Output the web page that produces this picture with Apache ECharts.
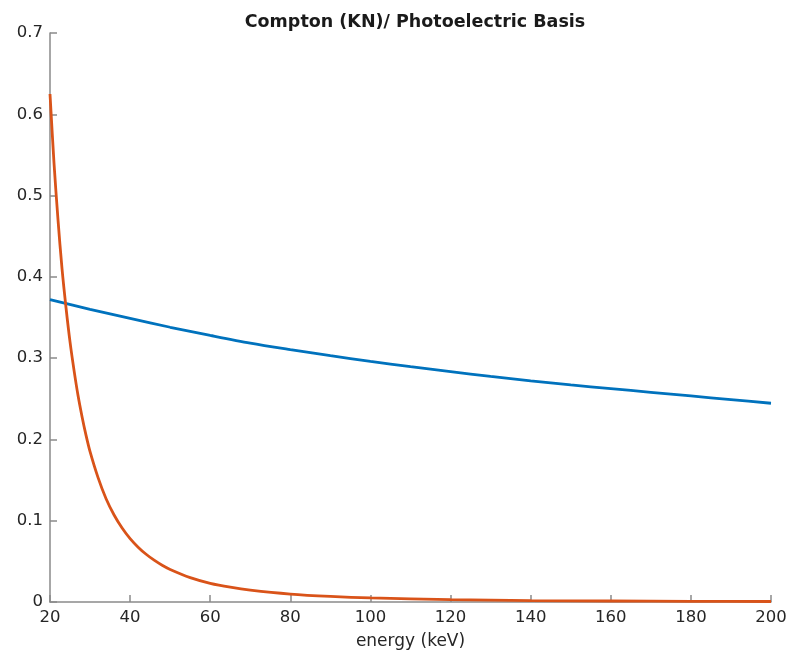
<!DOCTYPE html>
<html>
<head>
<meta charset="utf-8">
<script src="https://cdn.jsdelivr.net/npm/echarts@6/dist/echarts.min.js"></script>
<style>html,body{margin:0;padding:0;background:#fff}#c{width:791px;height:655px}</style>
</head>
<body>
<div id="c"></div>
<script>
const titleText = "Compton (KN)/ Photoelectric Basis";
const xAxisName = "energy (keV)";
const comptonEnergy = [20, 30, 40, 50, 60, 70, 80, 90, 100, 110, 120, 130, 140, 150, 160, 170, 180, 190, 200];
const comptonValues = [0.372, 0.360, 0.349, 0.338, 0.328, 0.3185, 0.3105, 0.303, 0.296, 0.2895, 0.2835, 0.2775, 0.272, 0.267, 0.2625, 0.258, 0.2535, 0.249, 0.2445];
const photoEnergy = [20, 21, 22, 23, 24, 25, 26, 27, 28, 29, 30, 32, 34, 36, 38, 40, 42, 44, 46, 48, 50, 55, 60, 65, 70, 80, 90, 100, 120, 140, 160, 180, 200];
const photoValues = [0.625, 0.54, 0.47, 0.41, 0.362, 0.32, 0.285, 0.254, 0.228, 0.205, 0.185, 0.153, 0.127, 0.107, 0.091, 0.078, 0.0675, 0.0587, 0.0514, 0.0452, 0.040, 0.030, 0.023, 0.0182, 0.0146, 0.0098, 0.0069, 0.005, 0.0029, 0.0018, 0.0012, 0.00086, 0.0006];

const chart = echarts.init(document.getElementById('c'), null, {renderer: 'canvas'});
const axisColor = '#8a8a8a';
const labelColor = '#262626';
const fam = 'DejaVu Sans';
chart.setOption({
  animation: false,
  backgroundColor: '#fff',
  title: {
    text: titleText, left: 410, top: 8, textAlign: 'center',
    textStyle: {fontFamily: fam, fontWeight: 'bold', fontSize: 17.5, color: '#1a1a1a'}
  },
  grid: {left: 50, right: 20, top: 33, bottom: 53},
  xAxis: {
    type: 'value', min: 20, max: 200, interval: 20,
    name: xAxisName, nameLocation: 'middle', nameGap: 31,
    nameTextStyle: {fontFamily: fam, fontSize: 17, color: labelColor},
    axisLine: {show: true, onZero: false, lineStyle: {color: axisColor, width: 1.5}},
    axisTick: {show: true, inside: true, length: 7, lineStyle: {color: axisColor, width: 1.5}},
    axisLabel: {fontFamily: fam, fontSize: 16.5, color: labelColor, margin: 7},
    splitLine: {show: false}
  },
  yAxis: {
    type: 'value', min: 0, max: 0.7, interval: 0.1,
    axisLine: {show: true, lineStyle: {color: axisColor, width: 1.5}},
    axisTick: {show: true, inside: true, length: 7, lineStyle: {color: axisColor, width: 1.5}},
    axisLabel: {fontFamily: fam, fontSize: 16.5, color: labelColor, margin: 7,
      formatter: v => (Math.round(v * 10) / 10).toString()},
    splitLine: {show: false}
  },
  series: [
    {
      type: 'line', name: 'Compton',
      data: comptonEnergy.map((e, i) => [e, comptonValues[i]]),
      smooth: 0.3, showSymbol: false, symbol: 'none',
      lineStyle: {color: '#0072BD', width: 2.8}
    },
    {
      type: 'line', name: 'Photoelectric',
      data: photoEnergy.map((e, i) => [e, photoValues[i]]),
      smooth: 0.3, showSymbol: false, symbol: 'none',
      lineStyle: {color: '#D95319', width: 2.8}
    }
  ]
});
</script>
</body>
</html>
